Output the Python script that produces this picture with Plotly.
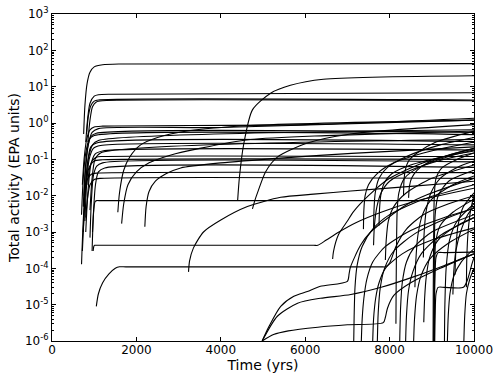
import plotly.graph_objects as go

# ---------------- data ----------------
# Each curve: (times in yrs, total activity in EPA units)

early_curves = [
    ([750, 780, 830, 900, 1000, 1200, 1600, 10000], [0.5, 3, 12, 25, 35, 40, 42, 43]),
    ([800, 850, 900, 1000, 1100, 1400, 10000], [0.3, 1.5, 3.5, 5.5, 6.0, 6.2, 6.8]),
    ([820, 860, 920, 1000, 1100, 10000], [0.5, 1.5, 3.0, 4.0, 4.3, 4.3]),
    ([850, 900, 960, 1050, 1200, 10000], [0.3, 1.2, 2.8, 3.8, 4.1, 4.1]),
    ([720, 760, 820, 900, 1000, 1200, 6000, 10000], [0.02, 0.1, 0.35, 0.65, 0.78, 0.82, 0.9, 1.35]),
    ([760, 800, 860, 950, 1100, 4000, 10000], [0.01, 0.06, 0.25, 0.55, 0.7, 0.75, 1.2]),
    ([740, 780, 840, 920, 1050, 10000], [0.005, 0.04, 0.2, 0.42, 0.52, 0.55]),
    ([700, 740, 800, 880, 1000, 10000], [0.003, 0.03, 0.15, 0.35, 0.45, 0.48]),
    ([720, 770, 830, 920, 1100, 10000], [3e-4, 0.005, 0.06, 0.22, 0.29, 0.31]),
    ([780, 820, 880, 980, 1150, 10000], [0.002, 0.02, 0.1, 0.2, 0.24, 0.25]),
    ([800, 850, 920, 1020, 1200, 10000], [0.001, 0.012, 0.07, 0.14, 0.17, 0.18]),
    ([850, 880, 950, 1050, 1200, 10000], [0.02, 0.05, 0.09, 0.115, 0.12, 0.12]),
    ([700, 740, 800, 880, 1000, 1200, 10000], [1.3e-4, 0.002, 0.02, 0.06, 0.09, 0.097, 0.1]),
    ([900, 930, 980, 1060, 1200, 10000], [7e-4, 0.006, 0.035, 0.065, 0.08, 0.085]),
    ([950, 980, 1030, 1100, 1250, 10000], [3e-4, 0.003, 0.02, 0.045, 0.058, 0.06]),
    ([750, 790, 850, 950, 1100, 10000], [0.005, 0.015, 0.03, 0.04, 0.042, 0.043]),
    ([800, 840, 900, 1000, 1150, 10000], [0.0025, 0.008, 0.02, 0.028, 0.03, 0.03]),
    ([960, 990, 1020, 1060, 1150, 10000], [0.001, 0.004, 0.0068, 0.0073, 0.0073, 0.0073]),
    ([1050, 1100, 1200, 1350, 1500, 1600, 1750, 7800, 7900, 8000, 8150, 8400, 8800, 9400, 10000],
     [9e-6, 2e-5, 4e-5, 7e-5, 1e-4, 1.1e-4, 1.1e-4, 1.1e-4, 1.1e-4, 1.4e-4, 4e-4, 1.2e-3, 3e-3, 6e-3, 0.01]),
    ([975, 990, 1010, 1150, 6200, 6300, 6500, 6800, 7200, 7800, 8600, 10000],
     [3e-4, 4e-4, 4.3e-4, 4.3e-4, 4.3e-4, 4.3e-4, 6e-4, 1e-3, 1.8e-3, 3.5e-3, 7e-3, 0.016]),
    ([740, 790, 860, 960, 1100, 10000], [0.001, 0.015, 0.1, 0.25, 0.33, 0.65]),
    ([900, 950, 1020, 1150, 10000], [0.004, 0.03, 0.1, 0.15, 0.35]),
]

mid_curves = [
    ([1560, 1600, 1700, 1850, 2100, 2500, 3200, 4700, 10000],
     [3.5e-3, 0.012, 0.05, 0.12, 0.25, 0.4, 0.6, 0.85, 1.2]),
    ([1650, 1700, 1800, 2000, 2300, 2800, 3500, 4700, 6500, 10000],
     [1.7e-3, 0.006, 0.02, 0.045, 0.08, 0.13, 0.2, 0.35, 0.45, 0.6]),
    ([2200, 2230, 2300, 2450, 2700, 3050, 4000, 5500, 7100, 10000],
     [1.4e-3, 0.005, 0.013, 0.025, 0.04, 0.058, 0.08, 0.11, 0.146, 0.22]),
    ([3235, 3260, 3350, 3590, 3990, 4630, 5420, 6200, 7080, 8500, 10000],
     [8e-5, 1.6e-4, 3.6e-4, 1e-3, 2.1e-3, 5e-3, 9e-3, 0.011, 0.0135, 0.018, 0.025]),
    ([4400, 4440, 4540, 4750, 5180, 5650, 6430, 10000],
     [7.6e-3, 0.031, 0.25, 2.3, 6.6, 10.9, 16, 20]),
    ([4750, 4800, 4890, 5060, 5340, 6050, 7080, 10000],
     [4.3e-3, 7e-3, 0.014, 0.045, 0.115, 0.28, 0.5, 0.9]),
]

fan_curves = [
    ([4980, 5140, 5420, 5730, 6050, 6360, 7000, 7040, 7070, 7310, 7550, 7950, 8420, 8900, 10000],
     [1e-6, 2.5e-6, 9e-6, 1.7e-5, 2.3e-5, 3.2e-5, 4.4e-5, 7e-5, 1.06e-4, 4.3e-4, 1e-3, 2.4e-3, 5.8e-3, 0.0107, 0.03]),
    ([4980, 5340, 5820, 6360, 7080, 7800, 8600, 9300, 10000],
     [1e-6, 4.8e-6, 1.1e-5, 1.5e-5, 1.9e-5, 3e-5, 6e-5, 1.2e-4, 2.5e-4]),
    ([4980, 5250, 5600, 6300, 7000, 7850, 7900, 7950, 8100, 8500, 9200, 10000],
     [1e-6, 1.5e-6, 1.9e-6, 2.4e-6, 2.8e-6, 3.2e-6, 4.5e-6, 8e-6, 1.8e-5, 4e-5, 1e-4, 2.5e-4]),
]

late_curves = [
    ([7150, 7160, 7180, 7230, 7350, 7600, 8000, 8800, 10000], [1e-6, 5e-6, 3e-5, 1.2e-4, 4e-4, 1.2e-3, 3e-3, 8e-3, 0.02]),
    ([7330, 7350, 7390, 7460, 7600, 7900, 8500, 9300, 10000], [1e-6, 4e-6, 1.5e-5, 5e-5, 1.5e-4, 4e-4, 1.1e-3, 2.5e-3, 4.5e-3]),
    ([7600, 7620, 7670, 7750, 7900, 8300, 9000, 10000], [1e-6, 4e-6, 1.5e-5, 4e-5, 1e-4, 2.5e-4, 6e-4, 1.3e-3]),
    ([6650, 6670, 6790, 7000, 7150, 7500, 8000, 8800, 10000], [1.8e-4, 2.9e-4, 8.5e-4, 2e-3, 3.7e-3, 0.01, 0.03, 0.08, 0.2]),
    ([7620, 7630, 7660, 7750, 7950, 8400, 9200, 10000], [1.2e-3, 4e-3, 0.012, 0.03, 0.06, 0.12, 0.25, 0.4]),
    ([7750, 7760, 7790, 7870, 8050, 8500, 9300, 10000], [1.5e-3, 4e-3, 0.01, 0.022, 0.04, 0.07, 0.12, 0.17]),
    ([7620, 7640, 7700, 7800, 8000, 8500, 9300, 10000], [4.3e-4, 1.5e-3, 5e-3, 0.012, 0.025, 0.05, 0.1, 0.15]),
    ([8330, 8340, 8370, 8450, 8650, 9100, 10000], [0.01, 0.025, 0.05, 0.09, 0.15, 0.3, 0.6]),
    ([8450, 8470, 8520, 8650, 8900, 9400, 10000], [8.7e-3, 0.018, 0.03, 0.05, 0.08, 0.13, 0.2]),
    ([8150, 8155, 8165, 8180, 8220, 8350, 8700, 9400, 10000], [3e-6, 3e-5, 5e-4, 4e-3, 0.012, 0.03, 0.06, 0.12, 0.18]),
    ([7710, 7730, 7780, 7880, 8100, 8600, 9400, 10000], [1e-6, 6e-6, 3e-5, 1e-4, 3e-4, 9e-4, 2.5e-3, 4.5e-3]),
    ([8380, 8400, 8450, 8550, 8750, 9200, 10000], [1e-6, 5e-6, 2.5e-5, 8e-5, 2.5e-4, 8e-4, 2.5e-3]),
    ([8570, 8590, 8640, 8740, 8950, 9400, 10000], [1e-6, 4e-6, 1.8e-5, 6e-5, 1.8e-4, 5e-4, 1.2e-3]),
    ([8810, 8830, 8870, 8950, 9150, 9600, 10000], [3.3e-6, 1.5e-5, 6e-5, 2e-4, 6e-4, 1.5e-3, 2.5e-3]),
    ([9030, 9035, 9045, 9060, 9100, 9250, 9600, 10000], [1e-6, 3e-5, 1e-3, 0.01, 0.03, 0.06, 0.1, 0.15]),
    ([9045, 9050, 9060, 9080, 9150, 9400, 10000], [1e-6, 2e-5, 4e-4, 3e-3, 0.01, 0.025, 0.05]),
    ([9055, 9060, 9070, 9090, 9200, 9500, 10000], [1e-6, 1e-5, 1e-4, 5e-4, 1.5e-3, 3.5e-3, 8e-3]),
    ([9060, 9065, 9075, 9100, 9150, 9300, 10000], [1e-6, 1e-5, 6e-5, 2e-4, 2.7e-4, 2.7e-4, 2.8e-4]),
    ([9070, 9080, 9100, 9150, 9300, 9750, 9850, 9950, 10000], [1e-6, 5e-6, 2e-5, 3e-5, 3e-5, 3e-5, 5e-5, 1.3e-4, 2e-4]),
    ([9370, 9390, 9430, 9520, 9700, 10000], [1e-6, 5e-6, 2e-5, 6e-5, 1.5e-4, 3.5e-4]),
    ([9760, 9780, 9820, 9900, 10000], [1e-6, 5e-6, 2e-5, 5e-5, 1e-4]),
    ([9500, 9520, 9570, 9680, 9850, 10000], [1.9e-5, 8e-5, 3e-4, 1e-3, 3e-3, 5e-3]),
    ([9550, 9570, 9620, 9750, 10000], [6.7e-5, 3e-4, 1.5e-3, 5e-3, 0.012]),
    ([8800, 8820, 8870, 8980, 9200, 9600, 10000], [2e-4, 1e-3, 4e-3, 0.012, 0.03, 0.06, 0.09]),
    ([7380, 7390, 7420, 7500, 7700, 8100, 8800, 10000], [1.2e-3, 4e-3, 0.01, 0.02, 0.04, 0.08, 0.15, 0.3]),
    ([7900, 7920, 7970, 8100, 8400, 9000, 10000], [1.7e-4, 6e-4, 2e-3, 5e-3, 0.012, 0.03, 0.07]),
    ([8600, 8620, 8670, 8780, 9000, 9500, 10000], [3e-5, 1.5e-4, 8e-4, 3e-3, 8e-3, 0.02, 0.035]),
    ([9300, 9310, 9340, 9420, 9600, 10000], [1e-6, 1e-5, 1e-4, 6e-4, 2e-3, 6e-3]),
    ([9820, 9830, 9860, 9920, 10000], [3e-5, 2e-4, 1e-3, 4e-3, 1e-2]),
    ([8240, 8260, 8300, 8400, 8600, 9000, 10000], [1e-6, 8e-6, 4e-5, 1.5e-4, 4e-4, 1e-3, 3e-3]),
]

x_tick_values = [0, 2000, 4000, 6000, 8000, 10000]
x_tick_labels = ["0", "2000", "4000", "6000", "8000", "10000"]
y_tick_values = [1e-6, 1e-5, 1e-4, 1e-3, 1e-2, 1e-1, 1e0, 1e1, 1e2, 1e3]
y_tick_labels = ["10<sup>-6</sup>", "10<sup>-5</sup>", "10<sup>-4</sup>", "10<sup>-3</sup>",
                 "10<sup>-2</sup>", "10<sup>-1</sup>", "10<sup>0</sup>", "10<sup>1</sup>",
                 "10<sup>2</sup>", "10<sup>3</sup>"]

# ---------------- figure ----------------
fig = go.Figure()
for group in (early_curves, mid_curves, fan_curves, late_curves):
    for t, v in group:
        fig.add_trace(go.Scatter(
            x=t, y=v, mode="lines",
            line=dict(color="black", width=1.1, shape="spline", smoothing=0.7),
            showlegend=False, hoverinfo="skip"))

font = dict(family="DejaVu Sans", size=12, color="black")
fig.update_layout(
    width=498, height=374,
    margin=dict(l=52, r=24, t=14, b=33),
    paper_bgcolor="white", plot_bgcolor="white",
    font=font,
    xaxis=dict(range=[0, 10000], tickvals=x_tick_values, ticktext=x_tick_labels,
               ticks="inside", ticklen=4, tickcolor="black", automargin=False,
               ticklabeloverflow="allow", ticklabelstandoff=-2,
               showline=True, linecolor="black", linewidth=1, mirror="ticks",
               showgrid=False, zeroline=False,
               title=dict(text="Time (yrs)", standoff=0)),
    yaxis=dict(type="log", range=[-6, 3], tickvals=y_tick_values, ticktext=y_tick_labels,
               ticks="inside", ticklen=4, tickcolor="black", automargin=False,
               ticklabeloverflow="allow",
               minor=dict(ticks="inside", ticklen=2, tickcolor="black", dtick="D1", showgrid=False),
               showline=True, linecolor="black", linewidth=1, mirror="ticks",
               showgrid=False, zeroline=False,
               title=dict(text="Total activity (EPA units)", standoff=2)),
)

# remove the browser's default 8px page margin so the figure fills the window
fig.write_html("out.html", config={"displayModeBar": False},
               post_script="document.body.style.margin='0px';")
